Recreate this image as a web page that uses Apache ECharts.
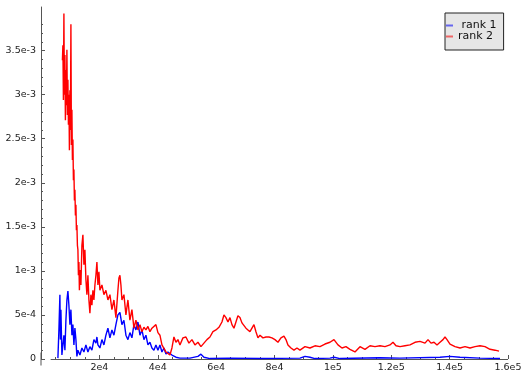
<!DOCTYPE html>
<html>
<head>
<meta charset="utf-8">
<script src="https://cdn.jsdelivr.net/npm/echarts@6/dist/echarts.min.js"></script>
<style>
  html, body { margin: 0; padding: 0; background: #fff; }
  #chart { width: 521px; height: 372px; }
</style>
</head>
<body>
<div id="chart"></div>
<script>
// Tick labels
const xTickValues = [20000, 40000, 60000, 80000, 100000, 120000, 140000, 160000];
const xTickLabels = ['2e4', '4e4', '6e4', '8e4', '1e5', '1.2e5', '1.4e5', '1.6e5'];
const yTickValues = [0, 5e-4, 1e-3, 1.5e-3, 2e-3, 2.5e-3, 3e-3, 3.5e-3];
const yTickLabels = ['0', '5e-4', '1e-3', '1.5e-3', '2e-3', '2.5e-3', '3e-3', '3.5e-3'];

// rank 1 (blue)
const rank1X = [5792, 6135, 6477, 6649, 6820, 7162, 7505, 7848, 8191, 8534, 8876, 9219, 9561, 9904,
  10247, 10590, 10932, 11275, 11618, 11961, 12303, 12646, 13331, 14017, 14702, 15388, 16073, 16758,
  17444, 18129, 18815, 19157, 19500, 20185, 20871, 21556, 22241, 22927, 23612, 24298, 24983, 25668,
  26354, 27039, 27725, 28410, 29096, 29781, 30466, 31152, 31837, 32522, 33208, 33893, 34578, 35264,
  35949, 36634, 37320, 38005, 38690, 39376, 40061, 40747, 41432, 42117, 42803, 43488, 44859, 46230,
  47601, 51027, 53769, 54797, 55825, 57881, 64734, 75017, 88725, 90438, 92152, 93865, 99005, 100376,
  102433, 116141, 122995, 136702, 140130, 143557, 150411, 157265];
const rank1Y = [1e-5, 3.3e-4, 7.3e-4, 2.2e-4, 5.6e-4, 4.5e-5, 1.6e-4, 2.7e-4, 1.0e-4, 4.4e-4, 6.7e-4, 7.7e-4, 6.1e-4, 3.9e-4,
  5.6e-4, 2.7e-4, 3.9e-4, 1.6e-4, 3.5e-4, 2.2e-4, 3e-5, 1.0e-4, 4.5e-5, 1.25e-4, 8e-5, 1.6e-4, 8e-5, 1.4e-4,
  1.0e-4, 2.2e-4, 1.8e-4, 2.5e-4, 1.6e-4, 1.25e-4, 2.2e-4, 1.6e-4, 2.7e-4, 3.5e-4, 2.4e-4, 3.3e-4, 2.7e-4, 3.9e-4,
  5.0e-4, 5.3e-4, 3.9e-4, 4.4e-4, 2.7e-4, 2.2e-4, 3.0e-4, 2.4e-4, 3.9e-4, 3.3e-4, 4.2e-4, 2.7e-4, 3.3e-4, 2.2e-4,
  2.7e-4, 1.6e-4, 1.9e-4, 1.25e-4, 1.0e-4, 1.6e-4, 1.0e-4, 1.6e-4, 8e-5, 1.25e-4, 5.5e-5, 8e-5, 4.5e-5, 2e-5,
  1e-5, 1e-5, 3e-5, 5.5e-5, 2e-5, 5e-6, 1e-5, 5e-6, 1e-5, 3e-5, 2e-5, 5e-6, 1e-5, 2e-5,
  5e-6, 1.5e-5, 1e-5, 2e-5, 3e-5, 2e-5, 1e-5, 5e-6];

// rank 2 (red)
const rank2X = [7334, 7505, 7676, 7848, 8019, 8191, 8362, 8534, 8705, 8876, 9048, 9219, 9390, 9561,
  9733, 9904, 10075, 10247, 10418, 10590, 10761, 10932, 11104, 11275, 11447, 11618, 11789, 11961,
  12132, 12303, 12475, 12646, 12817, 12989, 13160, 13331, 13674, 14017, 14359, 14702, 15045, 15388,
  15730, 16073, 16416, 16758, 17101, 17444, 17787, 18129, 18472, 18815, 19157, 19500, 19843, 20185,
  20871, 21556, 22241, 22927, 23612, 24298, 24983, 25668, 26354, 26697, 27039, 27382, 27725, 28410,
  29096, 29781, 30466, 31152, 31837, 32522, 33208, 33893, 34578, 35264, 35949, 36634, 37320, 38005,
  38690, 39376, 40061, 40747, 41432, 42117, 42803, 43488, 44174, 44859, 45544, 46230, 46915, 47601,
  48629, 49657, 50685, 51713, 52741, 53769, 54797, 55825, 56853, 57881, 58909, 59937, 60965, 61993,
  62678, 63364, 64049, 64734, 65420, 66105, 66790, 67476, 68163, 68847, 69532, 70218, 70903, 71588,
  72274, 72959, 73644, 74330, 75017, 76043, 77071, 78099, 79127, 80155, 81183, 82211, 83239, 83925,
  84610, 85638, 86666, 87694, 88725, 90438, 92152, 93865, 95578, 97292, 99005, 100376, 101747, 103117,
  104488, 105860, 107573, 109287, 111000, 112714, 114427, 116141, 117854, 119568, 120596, 121624, 122995, 124708,
  126422, 128135, 129849, 131562, 132590, 133618, 134646, 135674, 136702, 137730, 138416, 139101, 140130, 141843,
  143557, 145270, 146984, 148697, 150411, 152124, 153838, 155551, 156922];
const rank2Y = [3.39e-3, 3.56e-3, 2.94e-3, 3.92e-3, 3.0e-3, 3.45e-3, 2.71e-3, 3.28e-3, 2.88e-3, 3.51e-3, 2.77e-3, 3.17e-3, 2.66e-3, 3.0e-3,
  2.37e-3, 3.05e-3, 2.60e-3, 3.80e-3, 2.43e-3, 2.83e-3, 2.26e-3, 2.49e-3, 2.03e-3, 2.15e-3, 1.80e-3, 1.92e-3, 1.63e-3, 1.75e-3,
  1.46e-3, 1.52e-3, 1.29e-3, 1.24e-3, 9.5e-4, 1.10e-3, 7.8e-4, 1.01e-3, 8.4e-4, 1.29e-3, 1.41e-3, 1.07e-3, 1.24e-3, 9.0e-4,
  7.3e-4, 9.5e-4, 6.7e-4, 5.2e-4, 7.3e-4, 6.1e-4, 7.8e-4, 6.7e-4, 8.4e-4, 9.5e-4, 1.10e-3, 8.4e-4, 9.9e-4, 7.8e-4,
  8.4e-4, 7.3e-4, 7.8e-4, 6.7e-4, 7.3e-4, 5.6e-4, 6.7e-4, 4.7e-4, 7.8e-4, 9.2e-4, 9.5e-4, 8.4e-4, 6.7e-4, 7.3e-4,
  5.0e-4, 6.7e-4, 4.4e-4, 5.6e-4, 3.5e-4, 4.4e-4, 3.3e-4, 3.9e-4, 3.1e-4, 3.6e-4, 3.3e-4, 3.7e-4, 3.1e-4, 3.5e-4,
  3.3e-4, 3.9e-4, 3.0e-4, 2.7e-4, 1.6e-4, 1.8e-4, 8e-5, 1.0e-4, 4.5e-5, 1.25e-4, 2.5e-4, 1.9e-4, 2.2e-4, 1.6e-4,
  2.4e-4, 2.5e-4, 1.8e-4, 2.2e-4, 1.6e-4, 1.9e-4, 1.4e-4, 1.8e-4, 2.2e-4, 2.5e-4, 3.1e-4, 3.3e-4, 3.6e-4, 4.2e-4,
  5.0e-4, 4.7e-4, 4.2e-4, 4.7e-4, 3.9e-4, 3.5e-4, 4.2e-4, 4.9e-4, 4.7e-4, 4.1e-4, 3.9e-4, 3.5e-4, 3.3e-4, 3.1e-4,
  3.5e-4, 3.9e-4, 3.1e-4, 2.4e-4, 2.7e-4, 2.4e-4, 2.5e-4, 2.5e-4, 2.4e-4, 2.2e-4, 1.9e-4, 2.4e-4, 2.6e-4, 2.2e-4,
  1.6e-4, 1.25e-4, 1.0e-4, 1.25e-4, 1.0e-4, 1.4e-4, 1.25e-4, 1.5e-4, 1.4e-4, 1.7e-4, 1.9e-4, 2.2e-4, 1.6e-4, 1.25e-4,
  1.4e-4, 1.1e-4, 8e-5, 1.4e-4, 1.1e-4, 1.5e-4, 1.4e-4, 1.5e-4, 1.4e-4, 1.6e-4, 1.9e-4, 1.5e-4, 1.4e-4, 1.5e-4,
  1.6e-4, 1.9e-4, 2.0e-4, 1.8e-4, 2.2e-4, 1.8e-4, 1.9e-4, 1.6e-4, 1.9e-4, 2.2e-4, 2.5e-4, 2.2e-4, 1.7e-4, 1.4e-4,
  1.25e-4, 1.4e-4, 1.25e-4, 1.4e-4, 1.5e-4, 1.4e-4, 1.1e-4, 1.0e-4, 9e-5];

// where the horizontal axis line begins
const xAxisStart = 3300;

const FONT = 'DejaVu Sans';
const AXIS_COLOR = '#555';

function lookup(values, labels, v) {
  for (let i = 0; i < values.length; i++) {
    if (Math.abs(values[i] - v) < Math.abs(values[1] - values[0]) * 1e-6) return labels[i];
  }
  return '';
}

// minor tick positions on the value axis: every 1e-4 between the labelled ticks
const yMinorTicks = [];
for (let k = 1; k <= 38; k++) {
  if (k % 5 !== 0) yMinorTicks.push(k * 1e-4);
}

const chart = echarts.init(document.getElementById('chart'), null, { renderer: 'canvas' });

chart.setOption({
  animation: false,
  backgroundColor: '#ffffff',
  grid: {
    left: 41, right: 13, top: 7, bottom: 13,
    containLabel: false,
    outerBoundsMode: 'none'
  },
  legend: {
    left: 445,
    top: 13,
    orient: 'vertical',
    icon: 'rect',
    itemWidth: 7,
    itemHeight: 2,
    itemGap: 0,
    padding: [7, 7, 8, 1],
    backgroundColor: '#e6e6e6',
    borderColor: '#222',
    borderWidth: 1,
    borderRadius: 0,
    selectedMode: false,
    textStyle: { fontFamily: FONT, fontSize: 11, color: '#111', lineHeight: 11 },
    formatter: function (name) { return name === 'rank 1' ? ' ' + name : name; },
    data: [
      { name: 'rank 1', itemStyle: { color: '#6666ee' } },
      { name: 'rank 2', itemStyle: { color: '#ee6666' } }
    ]
  },
  xAxis: {
    type: 'value',
    min: 0,
    max: 160000,
    interval: 20000,
    axisLine: { show: true, onZero: false, lineStyle: { color: 'rgba(0,0,0,0)', width: 1 } },
    axisTick: { show: true, inside: true, length: 4, lineStyle: { color: AXIS_COLOR, width: 1 } },
    minorTick: { show: true, splitNumber: 4, length: 2, lineStyle: { color: AXIS_COLOR, width: 1 } },
    splitLine: { show: false },
    minorSplitLine: { show: false },
    axisLabel: {
      margin: 4,
      fontFamily: FONT,
      fontSize: 9.5,
      color: '#222',
      showMinLabel: true,
      showMaxLabel: true,
      formatter: function (v) { return lookup(xTickValues, xTickLabels, v); }
    }
  },
  yAxis: [
    {
      type: 'value',
      min: 0,
      max: 3.995e-3,
      axisLine: {
        show: true,
        // the vertical axis runs a little past the horizontal one at the bottom
        symbol: ['rect', 'none'],
        symbolSize: [1, 13],
        lineStyle: { color: AXIS_COLOR, width: 1 }
      },
      axisTick: { show: true, inside: true, length: 4, customValues: yTickValues, lineStyle: { color: AXIS_COLOR, width: 1 } },
      splitLine: { show: false },
      axisLabel: {
        margin: 5,
        fontFamily: FONT,
        fontSize: 9.5,
        color: '#222',
        customValues: yTickValues,
        formatter: function (v) { return lookup(yTickValues, yTickLabels, v); }
      }
    },
    {
      type: 'value',
      position: 'left',
      min: 0,
      max: 3.995e-3,
      axisLine: { show: false },
      axisTick: { show: true, inside: true, length: 2, customValues: yMinorTicks, lineStyle: { color: AXIS_COLOR, width: 1 } },
      axisLabel: { show: false },
      splitLine: { show: false }
    }
  ],
  series: [
    {
      name: 'rank 1',
      type: 'line',
      symbol: 'none',
      showSymbol: false,
      color: '#0000ff',
      lineStyle: { color: '#0000ff', width: 1.4 },
      data: rank1X.map((x, i) => [x, rank1Y[i]]),
      z: 2,
      markLine: {
        silent: true,
        symbol: 'none',
        label: { show: false },
        lineStyle: { color: AXIS_COLOR, width: 1, type: 'solid' },
        data: [[{ coord: [xAxisStart, 0] }, { coord: [160000, 0] }]],
        z: 1
      }
    },
    {
      name: 'rank 2',
      type: 'line',
      symbol: 'none',
      showSymbol: false,
      color: '#ff0000',
      lineStyle: { color: '#ff0000', width: 1.4 },
      data: rank2X.map((x, i) => [x, rank2Y[i]]),
      z: 3
    }
  ]
});
</script>
</body>
</html>
